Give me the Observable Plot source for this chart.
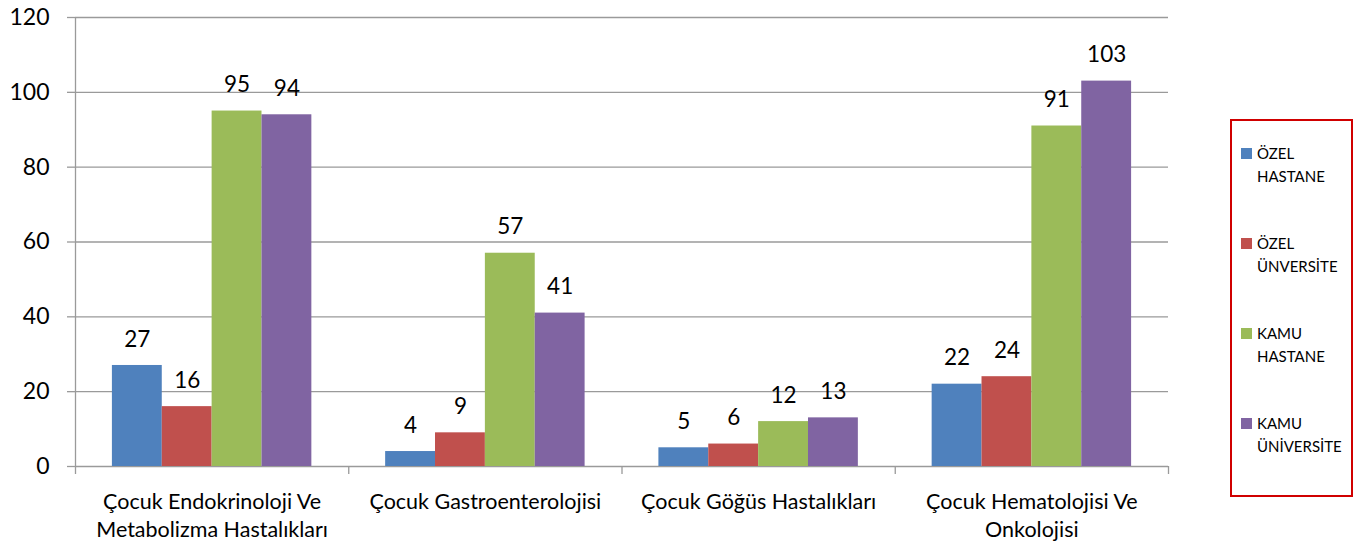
<!DOCTYPE html>
<html>
<head>
<meta charset="utf-8">
<script src="https://cdn.jsdelivr.net/npm/d3@7"></script>
<script src="https://cdn.jsdelivr.net/npm/@observablehq/plot@0.6"></script>
<style>
  html, body { margin: 0; padding: 0; background: #fff; }
  #wrap { position: relative; width: 1359px; height: 543px; }
  #legend {
    position: absolute; left: 1230px; top: 119px; width: 119px; height: 353px;
    border: 2px solid #d00000; font-family: Lato, sans-serif; font-size: 15px; color: #000;
    padding-top: 21px; box-sizing: content-box;
  }
  .item { position: relative; height: 46px; margin-bottom: 44px; padding-left: 25px; line-height: 23px; white-space: pre-line; }
  .sw { position: absolute; left: 9px; top: 6px; width: 11px; height: 11px; }
</style>
</head>
<body>
<div id="wrap"><div id="chart"></div><div id="legend"></div></div>
<script>
const categories = ["Çocuk Endokrinoloji Ve\nMetabolizma Hastalıkları", "Çocuk Gastroenterolojisi", "Çocuk Göğüs Hastalıkları", "Çocuk Hematolojisi Ve\nOnkolojisi"];
const series = ["ÖZEL\nHASTANE", "ÖZEL\nÜNVERSİTE", "KAMU\nHASTANE", "KAMU\nÜNİVERSİTE"];
const ozelHastane = [27, 4, 5, 22];
const ozelUniversite = [16, 9, 6, 24];
const kamuHastane = [95, 57, 12, 91];
const kamuUniversite = [94, 41, 13, 103];
const colors = ["#4f81bd", "#c0504d", "#9bbb59", "#8064a2"];
const yTicks = [0, 20, 40, 60, 80, 100, 120];

const seriesValues = [ozelHastane, ozelUniversite, kamuHastane, kamuUniversite];
const inner = d3.scaleBand(series, [0, 1]).paddingInner(0).paddingOuter(0.74);
const rows = categories.flatMap((c, ci) => series.map((s, si) => {
  const x1 = ci + inner(s);
  return {c, s, v: seriesValues[si][ci], x1, x2: x1 + inner.bandwidth(), xm: x1 + inner.bandwidth() / 2};
}));
const grid = "#9a9a9a";

const chart = Plot.plot({
  width: 1359, height: 543,
  marginLeft: 75, marginRight: 191, marginTop: 17, marginBottom: 77,
  style: {fontFamily: "Lato, sans-serif", fontSize: "22px", color: "#000", background: "#fff"},
  x: {domain: [0, categories.length], axis: null},
  y: {domain: [0, 120], axis: null},
  color: {domain: series, range: colors},
  marks: [
    Plot.ruleY(yTicks, {y: d => d, stroke: grid, strokeWidth: 1.3}),
    Plot.axisY({ticks: yTicks, tickSize: 8, tickPadding: 18, stroke: grid, strokeWidth: 1.3, fill: "#000", fontSize: 23, label: null}),
    Plot.ruleX([0], {stroke: grid, strokeWidth: 1.3}),
    Plot.axisX({ticks: d3.range(categories.length + 1), tickSize: 8, tickFormat: () => "", stroke: grid, strokeWidth: 1.3, label: null}),
    Plot.rectY(rows, {x1: "x1", x2: "x2", y: "v", fill: "s"}),
    Plot.text(rows, {x: "xm", y: "v", text: d => String(d.v), dy: -26, fontSize: 22.5, fill: "#000"}),
    Plot.text(categories, {x: (d, i) => i + 0.5, y: 0, text: d => d, dy: 22, lineAnchor: "top", lineHeight: 1.32, fontSize: 21.5, fill: "#000"})
  ]
});
document.getElementById("chart").appendChild(chart);

const legend = d3.select("#legend");
series.forEach((s, i) => {
  const it = legend.append("div").attr("class", "item").style("margin-bottom", i === series.length - 1 ? "0" : "44px");
  it.append("div").attr("class", "sw").style("background", colors[i]);
  it.append("span").text(s);
});
</script>
</body>
</html>
